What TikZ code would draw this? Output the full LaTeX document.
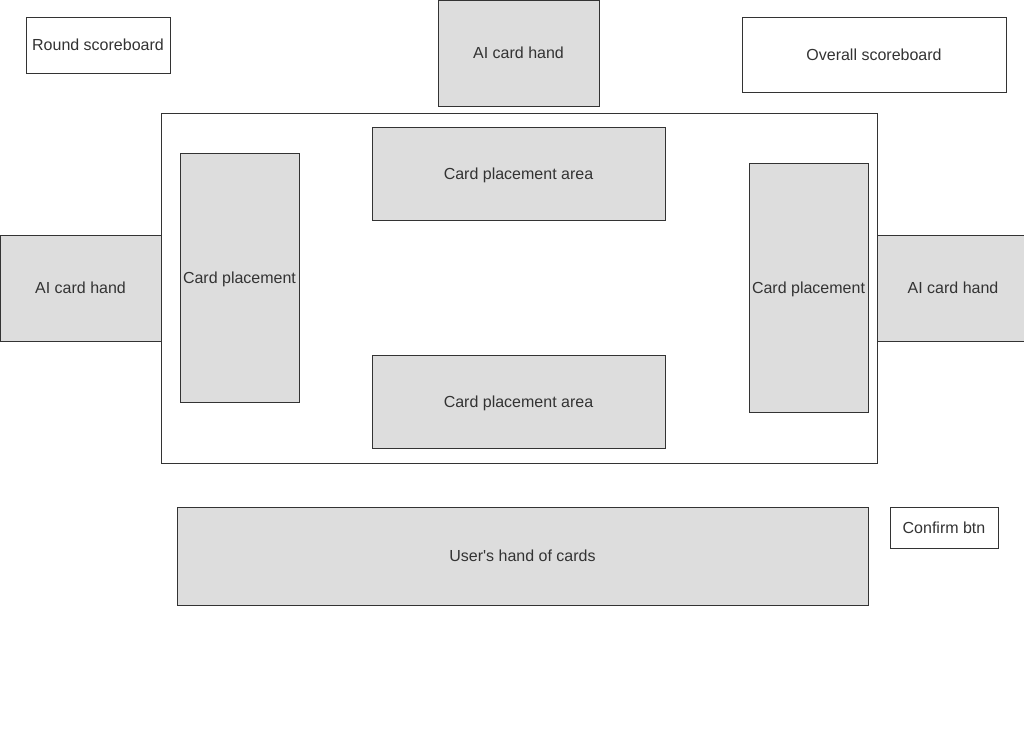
\documentclass[tikz,border=0pt]{standalone}
\usepackage{fontspec}
\setmainfont{Liberation Sans}
\definecolor{panelgray}{HTML}{DDDDDD}
\definecolor{inkgray}{HTML}{333333}
\tikzset{
  box/.style={draw=inkgray, line width=0.8pt, text=inkgray, inner sep=0pt,
    text depth=0pt, font=\fontsize{16}{19}\selectfont},
  panel/.style={box, fill=panelgray},
  plain/.style={box, fill=white},
}
\begin{document}
\begin{tikzpicture}[x=1pt, y=-1pt]
  \useasboundingbox (0,0) rectangle (1024,728);
  \fill[white] (0,0) rectangle (1024,728);
  % table and scoreboards
  \node[plain, minimum width=716, minimum height=350] (table) at (519,288) {};
  \node[plain, minimum width=144, minimum height=56] (round) at (98,45) {Round scoreboard};
  \node[plain, minimum width=264, minimum height=75] (overall) at (874,54.5) {Overall scoreboard};
  \node[plain, minimum width=108, minimum height=41] (confirm) at (944,527.5) {Confirm btn};
  % AI hands
  \node[panel, minimum width=161, minimum height=106] (aitop) at (518.5,53) {AI card hand};
  \node[panel, minimum width=161, minimum height=106] (aileft) at (80.5,288) {AI card hand};
  \node[panel, minimum width=152, minimum height=106] (airight) at (953,288) {AI card hand};
  % placement areas
  \node[panel, minimum width=119, minimum height=249] (placeleft) at (239.5,277.5) {Card placement};
  \node[panel, minimum width=119, minimum height=249] (placeright) at (808.5,287.5) {Card placement};
  \node[panel, minimum width=293, minimum height=93] (placetop) at (518.5,173.5) {Card placement area};
  \node[panel, minimum width=293, minimum height=93] (placebottom) at (518.5,401.5) {Card placement area};
  % user hand
  \node[panel, minimum width=691, minimum height=98] (userhand) at (522.5,556) {User\textquotesingle s hand of cards};
\end{tikzpicture}
\end{document}
